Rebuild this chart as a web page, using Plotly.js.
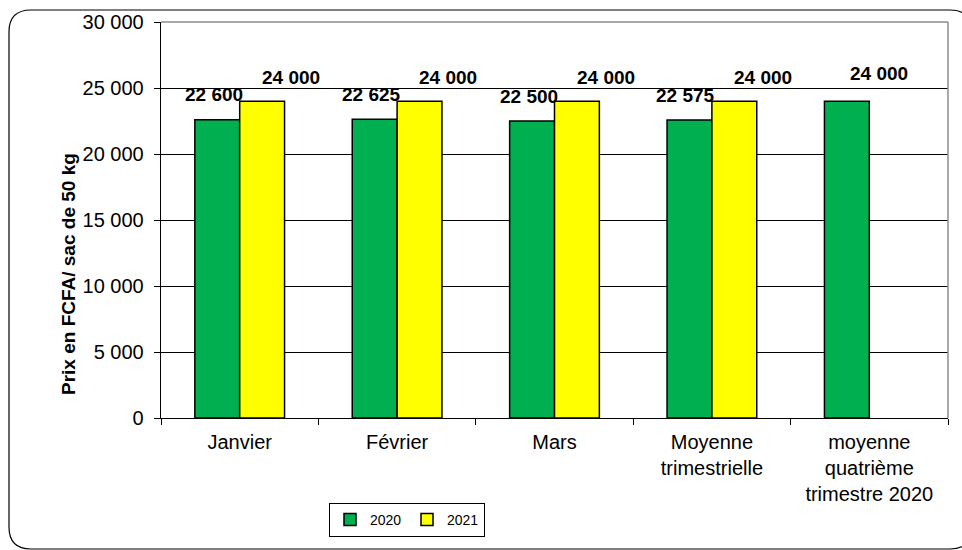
<!DOCTYPE html>
<html>
<head>
<meta charset="utf-8">
<script src="https://cdn.plot.ly/plotly-3.0.1.min.js"></script>
<style>html,body{margin:0;padding:0;background:#fff;}#chart{width:962px;height:550px;}</style>
</head>
<body>
<div id="chart"></div>
<script>
const categories = ["Janvier", "Février", "Mars", "Moyenne<br>trimestrielle", "moyenne<br>quatrième<br>trimestre 2020"];
const values2020 = [22600, 22625, 22500, 22575, 24000];
const values2021 = [24000, 24000, 24000, 24000, null];
const seriesNames = ["2020", "2021"];
const yTickVals = [0, 5000, 10000, 15000, 20000, 25000, 30000];

const fmt = v => String(v).replace(/\B(?=(\d{3})+(?!\d))/g, " ");
const FONT = "Liberation Sans, Arial, sans-serif";

const W = 962, H = 550, L = 161, R = 948, T = 22, B = 418;
const px = x => (x - L) / (R - L);
const py = y => (B - y) / (B - T);

const traces = [
  {type: "bar", name: seriesNames[0], x: categories, y: values2020,
   marker: {color: "#00b050", line: {color: "#000", width: 1.5}}, hoverinfo: "none"},
  {type: "bar", name: seriesNames[1], x: categories, y: values2021,
   marker: {color: "#ffff00", line: {color: "#000", width: 1.5}}, hoverinfo: "none"}
];

const annotations = [];
categories.forEach((c, i) => {
  const alone = values2021[i] == null;
  if (values2020[i] != null) annotations.push({x: c, y: values2020[i], xref: "x", yref: "y",
    text: "<b>" + fmt(values2020[i]) + "</b>", showarrow: false, xshift: alone ? 10 : -26, yshift: alone ? 28 : 25,
    yanchor: "middle", font: {family: FONT, size: 19, color: "#000"}});
  if (values2021[i] != null) annotations.push({x: c, y: values2021[i], xref: "x", yref: "y",
    text: "<b>" + fmt(values2021[i]) + "</b>", showarrow: false, xshift: 51, yshift: 24,
    yanchor: "middle", font: {family: FONT, size: 19, color: "#000"}});
});
annotations.push({xref: "paper", yref: "paper", x: px(68), y: py(274), xanchor: "center", yanchor: "middle",
  text: "<b>Prix en FCFA/ sac de 50 kg</b>",
  textangle: -90, showarrow: false, font: {family: FONT, size: 19, color: "#000"}});

// rounded outer frame
const fx0 = 9, fy0 = 10, fx1 = 972, fy1 = 549, r = 22;
const P = (x, y) => px(x) + "," + py(y);
const framePath = "M" + P(fx0 + r, fy0) + " L" + P(fx1 - r, fy0) + " Q" + P(fx1, fy0) + " " + P(fx1, fy0 + r) +
  " L" + P(fx1, fy1 - r) + " Q" + P(fx1, fy1) + " " + P(fx1 - r, fy1) +
  " L" + P(fx0 + r, fy1) + " Q" + P(fx0, fy1) + " " + P(fx0, fy1 - r) +
  " L" + P(fx0, fy0 + r) + " Q" + P(fx0, fy0) + " " + P(fx0 + r, fy0) + " Z";

const layout = {
  width: W, height: H,
  margin: {l: L, r: W - R, t: T, b: H - B, pad: 0},
  paper_bgcolor: "#fff", plot_bgcolor: "#fff",
  font: {family: FONT, size: 20, color: "#000"},
  separators: ", ",
  barmode: "group", bargap: 0.43, bargroupgap: 0,
  showlegend: true,
  legend: {orientation: "h", x: px(407), y: py(503), xanchor: "center", yanchor: "top",
    bordercolor: "#000", borderwidth: 1, bgcolor: "#fff", font: {family: FONT, size: 14, color: "#000"},
    itemwidth: 30, entrywidth: 32, entrywidthmode: "pixels", tracegroupgap: 0},
  xaxis: {type: "category", showline: true, linecolor: "#000", linewidth: 1.3, ticks: "outside",
    tickson: "boundaries", ticklen: 6, tickcolor: "#000", showgrid: false, fixedrange: true,
    ticklabelstandoff: 6, tickfont: {family: FONT, size: 20, color: "#000"}},
  yaxis: {range: [0, 30000], tickvals: yTickVals, tickformat: ",d", showline: true, linecolor: "#000",
    linewidth: 1.3, ticks: "outside", ticklen: 6, tickcolor: "#000", showgrid: true, gridcolor: "#000",
    gridwidth: 1, zeroline: false, fixedrange: true, ticklabelstandoff: 6,
    tickfont: {family: FONT, size: 20, color: "#000"}},
  annotations: annotations,
  shapes: [
    {type: "line", xref: "paper", yref: "paper", x0: 0, x1: 1, y0: 1, y1: 1, line: {color: "#8c8c8c", width: 1.5}},
    {type: "line", xref: "paper", yref: "paper", x0: 1, x1: 1, y0: 0, y1: 1, line: {color: "#8c8c8c", width: 1.5}},
    {type: "path", xref: "paper", yref: "paper", path: framePath, line: {color: "#000", width: 1.2}, layer: "below"}
  ]
};

Plotly.newPlot("chart", traces, layout, {displayModeBar: false, staticPlot: true});
</script>
</body>
</html>
